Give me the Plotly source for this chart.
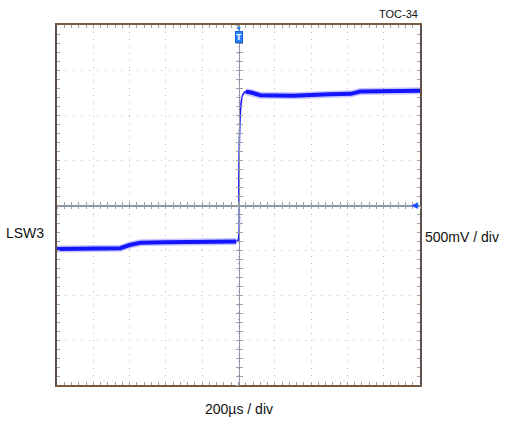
import plotly.graph_objects as go

# Time in divisions (200 µs/div), voltage in divisions (500 mV/div), screen centre = 0
time_low = [-5.0, -3.5, -3.26, -3.0, -2.71, -2.0, -1.0, -0.06]
volt_low = [-0.98, -0.98, -0.96, -0.89, -0.84, -0.83, -0.82, -0.81]

time_step = [-0.06, -0.01, 0.01, 0.03, 0.07, 0.12, 0.2, 0.3]
volt_step = [-0.81, -0.78, 0.5, 1.6, 2.25, 2.45, 2.52, 2.51]

time_high = [0.2, 0.35, 0.6, 1.5, 2.5, 3.1, 3.35, 4.0, 5.0]
volt_high = [2.52, 2.50, 2.44, 2.43, 2.46, 2.47, 2.52, 2.53, 2.54]

x_range = [-5, 5]
y_range = [-4, 4]

trace_color = "#1414ff"
halo_color = "rgba(60,60,255,0.3)"

grid_col = "#b8b8b8"
tick_col = "#9aa0a8"
center_col = "#8c96a4"

fig = go.Figure()
# invisible traces so the centre axes are drawn
fig.add_trace(go.Scatter(x=[None], y=[None], xaxis="x2", yaxis="y2", hoverinfo="skip"))
fig.add_trace(go.Scatter(x=[None], y=[None], xaxis="x3", yaxis="y3", hoverinfo="skip"))

for tx, vy in ((time_low, volt_low), (time_high, volt_high)):
    fig.add_trace(go.Scatter(x=tx, y=vy, mode="lines",
                             line=dict(color=halo_color, width=7), hoverinfo="skip"))
    fig.add_trace(go.Scatter(x=tx, y=vy, mode="lines",
                             line=dict(color=trace_color, width=4), hoverinfo="skip"))
fig.add_trace(go.Scatter(x=time_step, y=volt_step, mode="lines",
                         line=dict(color=trace_color, width=1.6, shape="spline"), hoverinfo="skip"))

fig.update_layout(
    width=506, height=425,
    margin=dict(l=57, r=86, t=25, b=40),
    paper_bgcolor="white", plot_bgcolor="white",
    showlegend=False,
    font=dict(family="Arial, Liberation Sans, sans-serif", color="#111111"),
    xaxis=dict(range=x_range, dtick=1, showgrid=True, gridcolor=grid_col,
               griddash="1px,6px", gridwidth=1, zeroline=False,
               showline=True, linecolor="#7a5a40", linewidth=2, mirror="allticks",
               ticks="inside", ticklen=3, tickcolor=tick_col, showticklabels=False,
               minor=dict(dtick=0.2, ticks="inside", ticklen=3, tickcolor=tick_col, showgrid=False),
               fixedrange=True),
    yaxis=dict(range=y_range, dtick=1, showgrid=True, gridcolor=grid_col,
               griddash="1px,7px", gridwidth=1, zeroline=False,
               showline=True, linecolor="#5e5048", linewidth=2, mirror="allticks",
               ticks="inside", ticklen=3, tickcolor=tick_col, showticklabels=False,
               minor=dict(dtick=0.2, ticks="inside", ticklen=3, tickcolor=tick_col, showgrid=False),
               fixedrange=True),
    xaxis2=dict(range=x_range, overlaying="x", anchor="free", position=0.5,
                showgrid=False, zeroline=False, showline=True, linecolor=center_col, linewidth=1.5,
                ticks="inside", dtick=0.2, ticklen=3, tickcolor=tick_col, showticklabels=False,
                fixedrange=True),
    xaxis3=dict(range=x_range, overlaying="x", anchor="free", position=0.5,
                showgrid=False, zeroline=False, showline=False,
                ticks="outside", dtick=0.2, ticklen=3, tickcolor=tick_col, showticklabels=False,
                fixedrange=True),
    yaxis2=dict(range=y_range, overlaying="y", anchor="free", position=0.5,
                showgrid=False, zeroline=False, showline=True, linecolor=center_col, linewidth=1.5,
                ticks="inside", dtick=0.2, ticklen=3, tickcolor=tick_col, showticklabels=False,
                fixedrange=True),
    yaxis3=dict(range=y_range, overlaying="y", anchor="free", position=0.5,
                showgrid=False, zeroline=False, showline=False,
                ticks="outside", dtick=0.2, ticklen=3, tickcolor=tick_col, showticklabels=False,
                fixedrange=True),
)

annotations = [
    dict(text="TOC-34", xref="paper", yref="paper", x=1.0, y=1.0, xanchor="right",
         yanchor="bottom", yshift=3, showarrow=False, font=dict(size=11)),
    dict(text="LSW3", xref="paper", yref="paper", x=0, y=0.5, xanchor="right",
         yanchor="top", xshift=-11, yshift=-18, showarrow=False, font=dict(size=14)),
    dict(text="500mV / div", xref="paper", yref="paper", x=1.0, y=0.5, xanchor="left",
         yanchor="top", xshift=3, yshift=-22, showarrow=False, font=dict(size=14)),
    dict(text="200µs / div", xref="paper", yref="paper", x=0.5, y=0, xanchor="center",
         yanchor="top", yshift=-14, showarrow=False, font=dict(size=14)),
    dict(text="▼", xref="x", yref="paper", x=0, y=1.0, xanchor="center", yanchor="top",
         yshift=2, showarrow=False, font=dict(size=7, color="#2a7fff")),
    dict(text="<b>T</b>", xref="x", yref="paper", x=0, y=1.0, xanchor="center", yanchor="top",
         yshift=-6, showarrow=False, font=dict(size=9, color="white"),
         bgcolor="#2a7fff", bordercolor="#1060e0", borderwidth=1, borderpad=0),
    dict(text="◀", xref="paper", yref="y", x=1.0, y=0, xanchor="right", yanchor="middle",
         xshift=0, showarrow=False, font=dict(size=9, color="#1a50ff")),
]
fig.update_layout(annotations=annotations)

fig.write_html("out.html", config={"displayModeBar": False, "staticPlot": True},
               post_script="document.body.style.margin='0';document.body.style.overflow='hidden';")
